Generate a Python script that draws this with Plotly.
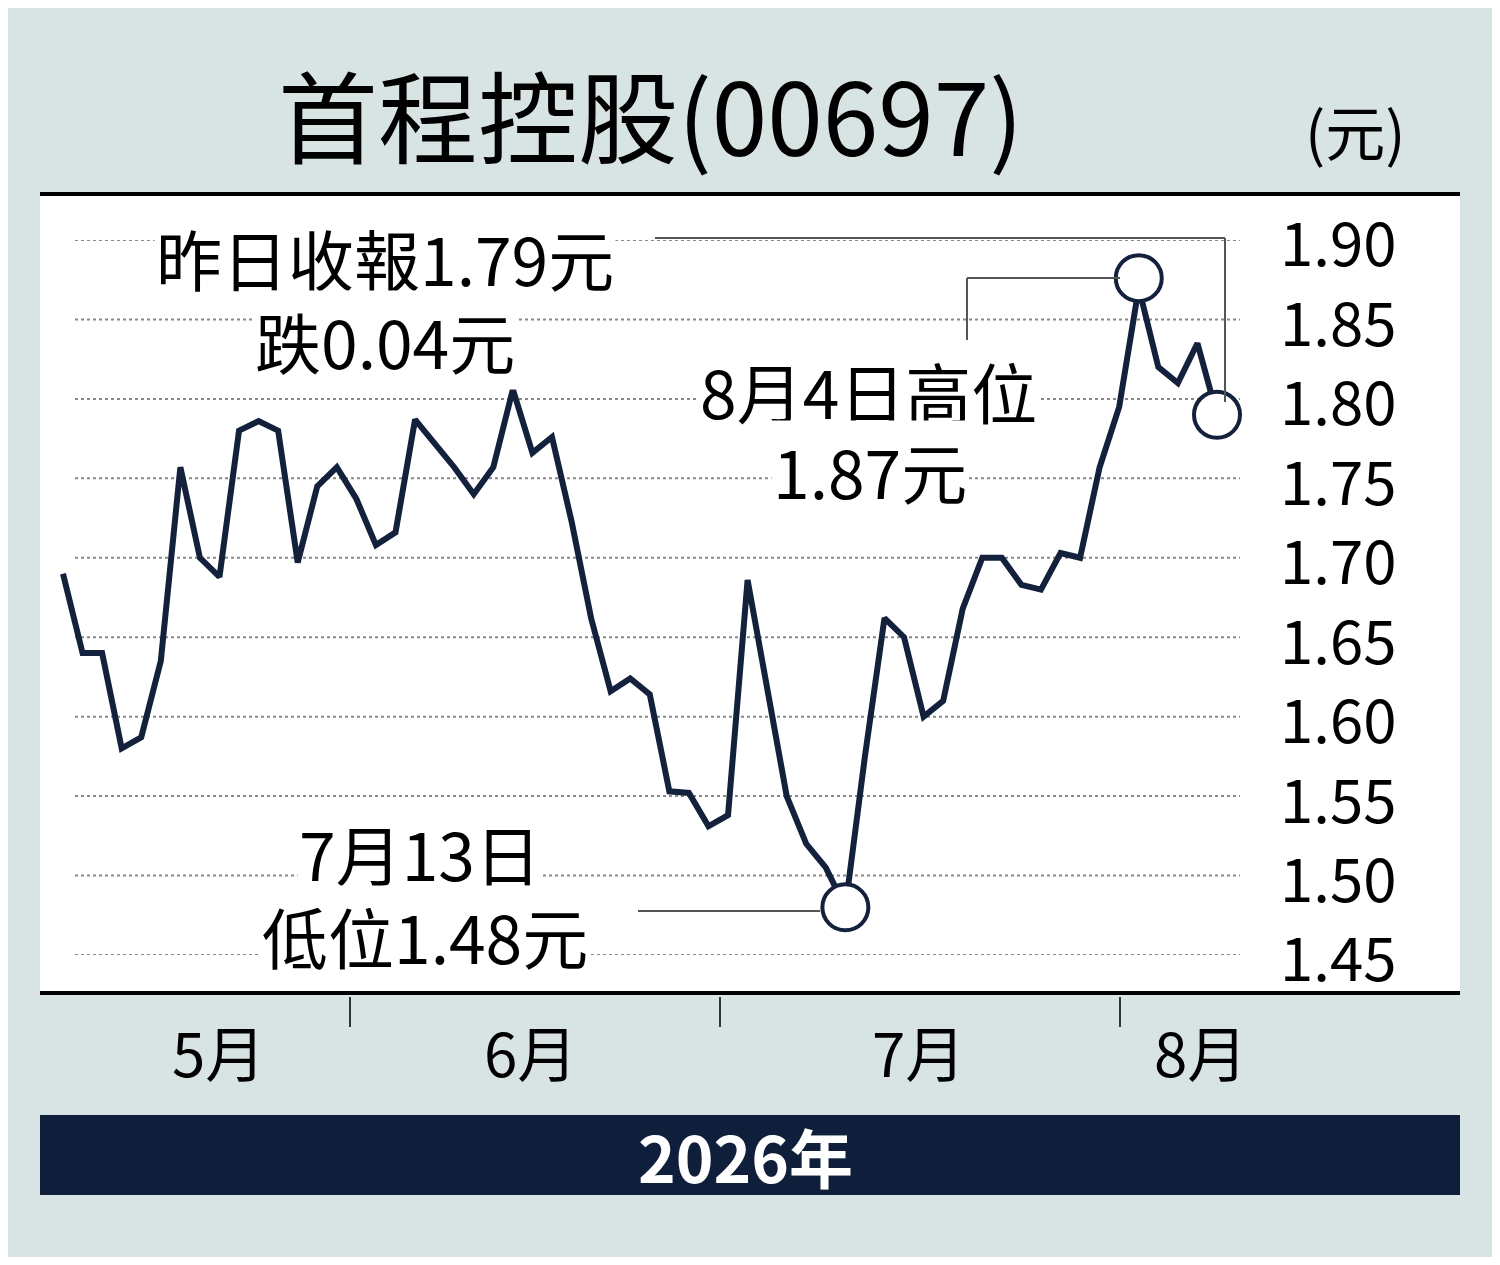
import plotly.graph_objects as go

# daily closes, May - Aug 2026
prices = [1.69, 1.64, 1.64, 1.58, 1.587, 1.635, 1.757, 1.70, 1.688, 1.78,
          1.786, 1.78, 1.697, 1.745, 1.757, 1.737, 1.708, 1.716, 1.787, 1.772,
          1.757, 1.74, 1.757, 1.806, 1.766, 1.776, 1.723, 1.662, 1.616, 1.624,
          1.614, 1.553, 1.552, 1.531, 1.538, 1.686, 1.617, 1.55, 1.52, 1.505,
          1.48, 1.575, 1.662, 1.65, 1.60, 1.61, 1.668, 1.70, 1.70, 1.683,
          1.68, 1.703, 1.70, 1.757, 1.795, 1.87, 1.82, 1.81, 1.835, 1.79]
days = list(range(len(prices)))
y_ticks = [1.45, 1.50, 1.55, 1.60, 1.65, 1.70, 1.75, 1.80, 1.85, 1.90]
months = ["5月", "6月", "7月", "8月"]
month_x = [218, 530, 918, 1200]      # label centres, px
month_sep = [350, 720, 1120]         # separator ticks, px
low_i, high_i, last_i = 40, 55, 59

OFF = 8  # page body margin
W, H = 1500 - 2 * OFF, 1265 - 2 * OFF
FONT = "Noto Sans CJK TC"
NAVY = "#14213d"
px = lambda v: (v - OFF) / W
py = lambda v: 1 - (v - OFF) / H

fig = go.Figure()
fig.add_trace(go.Scatter(x=days, y=prices, mode="lines", cliponaxis=False,
                         line=dict(color=NAVY, width=6), hoverinfo="skip"))
fig.add_trace(go.Scatter(x=[days[low_i], days[high_i], days[last_i]],
                         y=[prices[low_i], 1.876, prices[last_i]], mode="markers",
                         cliponaxis=False,
                         marker=dict(size=46, color="white",
                                     line=dict(color=NAVY, width=4))))

step = (1217 - 63) / (len(prices) - 1)
x_lo = (40 - 63) / step
x_hi = (1240 - 63) / step

shapes = [
    dict(type="rect", xref="paper", yref="paper", x0=px(40), x1=px(1460),
         y0=py(993), y1=py(193), fillcolor="white", line_width=0, layer="below"),
    dict(type="line", xref="paper", yref="paper", x0=px(40), x1=px(1460),
         y0=py(194), y1=py(194), line=dict(color="black", width=4)),
    dict(type="line", xref="paper", yref="paper", x0=px(40), x1=px(1460),
         y0=py(993), y1=py(993), line=dict(color="black", width=4)),
    dict(type="rect", xref="paper", yref="paper", x0=px(40), x1=px(1460),
         y0=py(1195), y1=py(1115), fillcolor="#0f1e3a", line_width=0),
]
for t in y_ticks:
    shapes.append(dict(type="line", xref="paper", yref="y", x0=px(75), x1=px(1240),
                       y0=t, y1=t, layer="below",
                       line=dict(color="#888", width=2, dash="dot")))
for s in month_sep:
    shapes.append(dict(type="line", xref="paper", yref="paper", x0=px(s), x1=px(s),
                       y0=py(997), y1=py(1027), line=dict(color="#333", width=2)))
# leader lines
for (x0, y0, x1, y1) in [(655, 238, 1225, 238), (1225, 238, 1225, 402),
                         (967, 340, 967, 278), (967, 278, 1120, 278),
                         (638, 911, 820, 911)]:
    shapes.append(dict(type="line", xref="paper", yref="paper", x0=px(x0), x1=px(x1),
                       y0=py(y0), y1=py(y1), line=dict(color="#555", width=2)))

ann = []
def label(text, x, y, size, color="black", bg="white", bold=False):
    if bold:
        text = "<b>" + text + "</b>"
    ann.append(dict(text=text, xref="paper", yref="paper", x=px(x), y=py(y),
                    xanchor="center", yanchor="middle", showarrow=False,
                    bgcolor=bg, font=dict(family=FONT, size=size, color=color)))

label("首程控股(00697)", 650, 112, 100, bg="rgba(0,0,0,0)")
label("(元)", 1355, 130, 60, bg="rgba(0,0,0,0)")
label("昨日收報1.79元", 385, 257, 66)
label("跌0.04元", 385, 340, 66)
label("8月4日高位", 868, 390, 66)
label("1.87元", 870, 470, 66)
label("7月13日", 420, 852, 66)
label("低位1.48元", 425, 935, 66)
for m, x in zip(months, month_x):
    label(m, x, 1050, 60, bg="rgba(0,0,0,0)")
label("2026年", 745, 1155, 64, color="white", bg="rgba(0,0,0,0)", bold=True)
for t in y_ticks:
    ann.append(dict(text=f"{t:.2f}", xref="paper", yref="y", x=px(1338), y=t,
                    xanchor="center", yanchor="middle", showarrow=False,
                    font=dict(family=FONT, size=60, color="black")))

fig.update_layout(
    width=W, height=H, margin=dict(l=0, r=0, t=0, b=0),
    paper_bgcolor="#d8e4e4", plot_bgcolor="rgba(0,0,0,0)",
    showlegend=False, shapes=shapes, annotations=ann,
    xaxis=dict(domain=[px(40), px(1240)], range=[x_lo, x_hi], visible=False),
    yaxis=dict(domain=[py(955), py(240)], range=[1.45, 1.90], visible=False),
)
fig.write_html("out.html")
